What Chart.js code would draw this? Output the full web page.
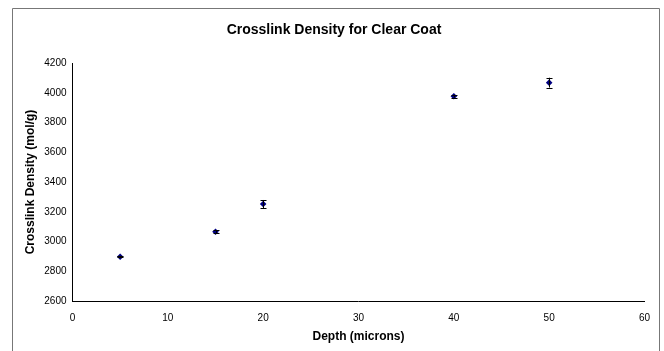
<!DOCTYPE html>
<html>
<head>
<meta charset="utf-8">
<script src="https://cdn.jsdelivr.net/npm/chart.js@4/dist/chart.umd.min.js"></script>
<style>
  html,body{margin:0;padding:0;background:#fff;}
  #wrap{position:relative;width:664px;height:351px;}
</style>
</head>
<body>
<div id="wrap"><canvas id="c" width="664" height="351"></canvas></div>
<script>
const depths = [5, 15, 20, 40, 50];
const density = [2897, 3066, 3252, 3976, 4068];
const errors = [4, 10, 27, 8, 33];
const xTicks = [0, 10, 20, 30, 40, 50, 60];
const yTicks = [2600, 2800, 3000, 3200, 3400, 3600, 3800, 4000, 4200];

const FONT = "'Liberation Sans', Arial, sans-serif";

const framePlugin = {
  id: 'frame',
  beforeDraw(chart) {
    const ctx = chart.ctx;
    ctx.save();
    ctx.fillStyle = '#fff';
    ctx.fillRect(0, 0, chart.width, chart.height);
    ctx.strokeStyle = '#777';
    ctx.lineWidth = 1;
    ctx.beginPath();
    ctx.moveTo(12.5, 360);
    ctx.lineTo(12.5, 8.5);
    ctx.lineTo(659.5, 8.5);
    ctx.lineTo(659.5, 360);
    ctx.stroke();
    ctx.restore();
  }
};

const errorBarPlugin = {
  id: 'errbars',
  afterDatasetsDraw(chart) {
    const ctx = chart.ctx;
    const xs = chart.scales.x, ys = chart.scales.y;
    ctx.save();
    ctx.strokeStyle = '#000';
    ctx.lineWidth = 1;
    depths.forEach((d, i) => {
      const px = Math.round(xs.getPixelForValue(d)) + 0.5;
      const top = ys.getPixelForValue(density[i] + errors[i]);
      const bot = ys.getPixelForValue(density[i] - errors[i]);
      ctx.beginPath();
      ctx.moveTo(px, top); ctx.lineTo(px, bot);
      ctx.moveTo(px - 3, Math.round(top) + 0.5); ctx.lineTo(px + 3, Math.round(top) + 0.5);
      ctx.moveTo(px - 3, Math.round(bot) + 0.5); ctx.lineTo(px + 3, Math.round(bot) + 0.5);
      ctx.stroke();
    });
    ctx.restore();
  }
};

new Chart(document.getElementById('c'), {
  type: 'scatter',
  data: {
    datasets: [{
      data: depths.map((d, i) => ({x: d, y: density[i]})),
      backgroundColor: '#000080',
      borderColor: '#000080',
      pointStyle: 'rectRot',
      pointRadius: 3.3,
      pointBorderWidth: 0,
      showLine: false
    }]
  },
  options: {
    responsive: false,
    animation: false,
    devicePixelRatio: 1,
    layout: {padding: {left: 12, right: 8, top: 0, bottom: 0}},
    plugins: {
      legend: {display: false},
      tooltip: {enabled: false},
      title: {
        display: true,
        text: 'Crosslink Density for Clear Coat',
        color: '#000',
        font: {family: FONT, size: 14, weight: 'bold'},
        padding: {top: 21.5, bottom: 24.7}
      }
    },
    scales: {
      x: {
        type: 'linear',
        min: 0, max: 60,
        afterBuildTicks(s) { s.ticks = xTicks.map(v => ({value: v})); },
        afterFit(s) { s.height = 50; },
        grid: {display: false, drawOnChartArea: false, drawTicks: true, tickLength: 4, tickColor: '#000'},
        border: {display: true, color: '#000', width: 1},
        ticks: {color: '#000', font: {family: FONT, size: 10}, padding: 7, maxRotation: 0,
                callback: v => String(v)},
        title: {display: true, text: 'Depth (microns)', color: '#000',
                font: {family: FONT, size: 12, weight: 'bold'}, padding: {top: 0, bottom: 7}}
      },
      y: {
        type: 'linear',
        min: 2600, max: 4200,
        afterBuildTicks(s) { s.ticks = yTicks.map(v => ({value: v})); },
        afterFit(s) { s.width = 60.5; },
        grid: {display: false, drawOnChartArea: false, drawTicks: true, tickLength: 4, tickColor: '#000'},
        border: {display: true, color: '#000', width: 1},
        ticks: {color: '#000', font: {family: FONT, size: 10}, padding: 2,
                callback: v => String(v)},
        title: {display: true, text: 'Crosslink Density (mol/g)', color: '#000',
                font: {family: FONT, size: 12, weight: 'bold'}, padding: {top: 11.8, bottom: 0}}
      },
      yRight: {
        type: 'linear',
        position: 'right',
        min: 2600, max: 4200,
        afterFit(s) { s.width = 11.5; },
        grid: {display: false, drawOnChartArea: false, drawTicks: false},
        border: {display: false},
        ticks: {display: false},
        title: {display: false}
      }
    }
  },
  plugins: [framePlugin, errorBarPlugin]
});
</script>
</body>
</html>
